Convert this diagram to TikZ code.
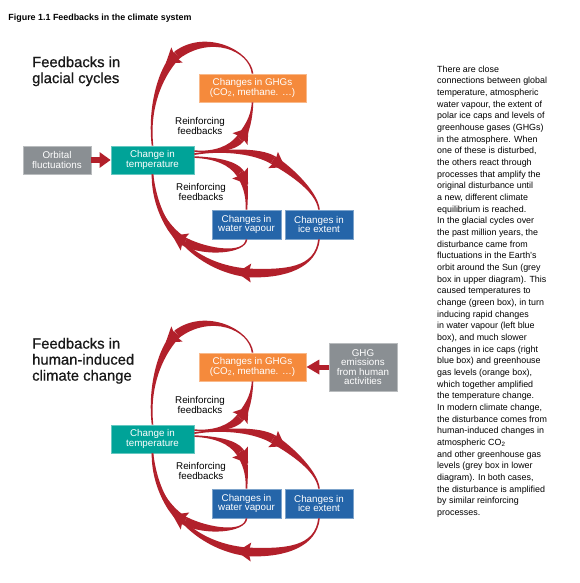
\documentclass[tikz,border=0pt]{standalone}
\usepackage{fontspec}
\setmainfont{Liberation Sans}
\newfontfamily\ttlfont[FakeBold=0.7]{Liberation Sans}
\usetikzlibrary{calc,arrows.meta}
\definecolor{fbred}{HTML}{B2202B}
\definecolor{fbteal}{HTML}{00A398}
\definecolor{fborange}{HTML}{F58A3C}
\definecolor{fbblue}{HTML}{2565A9}
\definecolor{fbgray}{HTML}{8A8F93}
\newcommand{\thinw}{0.8pt}
\newcommand{\thickw}{4.3pt}
\newcommand{\headw}{9.5pt}
\newcommand{\headl}{14pt}
% tapered body: #1 thin end, #2 ctrl near thin end, #3 ctrl near thick end, #4 thick end
\newcommand{\wedgepart}[6]{%
  \fill[fbred] ($(#1)!#5!90:(#2)$)
    .. controls ($(#2)!#5!-90:(#1)$) and ($(#3)!#6!90:(#4)$) .. ($(#4)!#6!-90:(#3)$)
    -- ($(#4)!#6!90:(#3)$)
    .. controls ($(#3)!#6!-90:(#4)$) and ($(#2)!#5!90:(#1)$) .. ($(#1)!#5!-90:(#2)$) -- cycle;}
% feedback arrow: source, c1, c2, head base, c3, c4, target
\newcommand{\tarrow}[7]{%
  \wedgepart{#1}{#2}{#3}{#4}{\thinw}{\thickw}%
  \wedgepart{#7}{#6}{#5}{#4}{\thinw}{\thickw}%
  \fill[fbred] ($(#4)!\headw!90:(#3)$) -- ($(#4)!-\headl!(#3)$) -- ($(#4)!\headw!-90:(#3)$) -- ($(#4)!-2.5pt!(#3)$) -- cycle;}
\tikzset{
  box/.style={draw=#1!60!white, line width=0.7pt, fill=#1, text=white, inner sep=0pt,
    align=center, font=\fontsize{9.8}{9.5}\selectfont},
  lbl/.style={inner sep=0pt, align=center, text=black, font=\fontsize{9.8}{9.2}\selectfont},
  ttl/.style={anchor=north west, inner sep=0pt, align=left, text=black!90, font=\ttlfont\fontsize{14.8}{16}\selectfont},
  straightarrow/.style={fbred, line width=5.5pt, -{Triangle[length=11pt,width=15pt]}}
}
\newcommand{\fbdiagram}[1]{%
  \node[box=fbteal, minimum width=83pt, minimum height=28pt] (#1temp) at (152.5,160) {Change in\\temperature};
  \node[box=fbblue, minimum width=69pt, minimum height=29pt] (#1wv) at (246.5,224.5) {Changes in\\water vapour};
  \node[box=fbblue, minimum width=68pt, minimum height=29pt] (#1ice) at (319,224.5) {Changes in\\ice extent};
  \node[box=fborange, minimum width=107pt, minimum height=28pt] (#1ghg) at (252.5,88) {Changes in GHGs\\(CO\textsubscript{2}, methane. …)};
  \node[lbl] (#1rfa) at (200,126) {Reinforcing\\feedbacks};
  \node[lbl] (#1rfb) at (201,192) {Reinforcing\\feedbacks};
  % A: GHG -> temperature (over the top)
  \coordinate (#1a1) at (250,50); \coordinate (#1a2) at (208,32); \coordinate (#1aH) at (177,55);
  \coordinate (#1a3) at (162,70); \coordinate (#1a4) at (148,105);
  \tarrow{#1ghg.north}{#1a1}{#1a2}{#1aH}{#1a3}{#1a4}{#1temp.north}
  % B: temperature -> GHG
  \coordinate (#1b1) at (215,153); \coordinate (#1b2) at (233,148); \coordinate (#1bH) at (240,139);
  \coordinate (#1b3) at (246,131); \coordinate (#1b4) at (252,118);
  \tarrow{#1temp.12}{#1b1}{#1b2}{#1bH}{#1b3}{#1b4}{#1ghg.south}
  % C: temperature -> water vapour
  \coordinate (#1c1) at (216,158); \coordinate (#1c2) at (233,163); \coordinate (#1cH) at (240,173);
  \coordinate (#1c3) at (246,182); \coordinate (#1c4) at (247,195);
  \tarrow{#1temp.4}{#1c1}{#1c2}{#1cH}{#1c3}{#1c4}{#1wv.north}
  % D: temperature -> ice extent
  \coordinate (#1d1) at (225,149); \coordinate (#1d2) at (258,151); \coordinate (#1dH) at (273,160);
  \coordinate (#1d3) at (285,167); \coordinate (#1d4) at (317,190);
  \tarrow{#1temp.8}{#1d1}{#1d2}{#1dH}{#1d3}{#1d4}{#1ice.north}
  % E: water vapour -> temperature
  \coordinate (#1e1) at (245,254); \coordinate (#1e2) at (207,253); \coordinate (#1eH) at (185,242);
  \coordinate (#1e3) at (172,235); \coordinate (#1e4) at (152,208);
  \tarrow{#1wv.south}{#1e1}{#1e2}{#1eH}{#1e3}{#1e4}{#1temp.south}
  % F: ice extent -> temperature
  \coordinate (#1f1) at (316,268); \coordinate (#1f2) at (285,274); \coordinate (#1fH) at (251,273);
  \coordinate (#1f3) at (225,272); \coordinate (#1f4) at (162,255);
  \tarrow{#1ice.south}{#1f1}{#1f2}{#1fH}{#1f3}{#1f4}{#1temp.south}
}
\begin{document}
\begin{tikzpicture}[x=1pt,y=-1pt]
\fill[white] (0,0) rectangle (579,583);
\useasboundingbox (0,0) rectangle (579,583);
\node[anchor=base west, inner sep=0pt, font=\bfseries\fontsize{8.9}{10}\selectfont] (fig) at (8.3,20.7) {Figure 1.1 Feedbacks in the climate system};
\node[ttl] (t1) at (32,56.2) {Feedbacks in\\glacial cycles};
\node[ttl] (t2) at (32,337.7) {Feedbacks in\\human-induced\\climate change};
% upper diagram
\fbdiagram{U-}
\node[box=fbgray, minimum width=68pt, minimum height=28pt] (U-orb) at (57,160) {Orbital\\fluctuations};
\draw[straightarrow] (U-orb.east) -- (U-temp.west);
% lower diagram
\begin{scope}[shift={(0,279)}]
\fbdiagram{L-}
\node[box=fbgray, minimum width=68pt, minimum height=48pt] (L-em) at (363,88) {GHG\\emissions\\from human\\activities};
\draw[straightarrow, line width=5pt, -{Triangle[length=13pt,width=14pt]}] (L-em.west) -- (L-ghg.east);
\end{scope}
% explanatory text
\node[anchor=north west, align=left, inner sep=0pt, font=\fontsize{8.9}{11.67}\selectfont] (body) at (437,65.5) {There are close\\
connections between global\\
temperature, atmospheric\\
water vapour, the extent of\\
polar ice caps and levels of\\
greenhouse gases (GHGs)\\
in the atmosphere. When\\
one of these is disturbed,\\
the others react through\\
processes that amplify the\\
original disturbance until\\
a new, different climate\\
equilibrium is reached.\\
In the glacial cycles over\\
the past million years, the\\
disturbance came from\\
fluctuations in the Earth's\\
orbit around the Sun (grey\\
box in upper diagram). This\\
caused temperatures to\\
change (green box), in turn\\
inducing rapid changes\\
in water vapour (left blue\\
box), and much slower\\
changes in ice caps (right\\
blue box) and greenhouse\\
gas levels (orange box),\\
which together amplified\\
the temperature change.\\
In modern climate change,\\
the disturbance comes from\\
human-induced changes in\\
atmospheric CO\textsubscript{2}\\
and other greenhouse gas\\
levels (grey box in lower\\
diagram). In both cases,\\
the disturbance is amplified\\
by similar reinforcing\\
processes.};
\end{tikzpicture}
\end{document}
